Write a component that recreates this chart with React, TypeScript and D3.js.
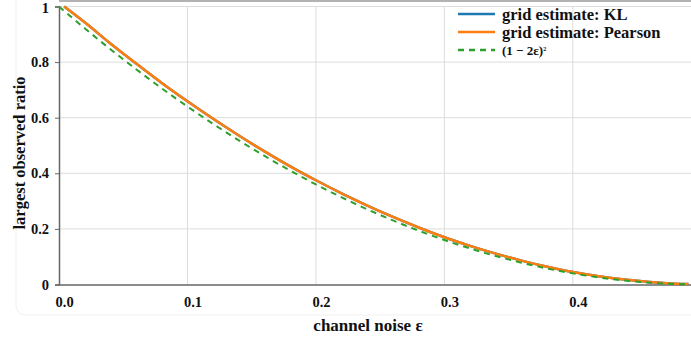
import React, { useEffect, useRef } from 'react'
import { select, scaleLinear, line, curveMonotoneX, axisLeft, axisBottom, format } from 'd3'

// noise levels (x) shared by the grid estimates
const gridEps = [0.004, 0.02, 0.04, 0.06, 0.08, 0.1, 0.12, 0.14, 0.16, 0.18, 0.2, 0.22, 0.24, 0.26, 0.28, 0.3, 0.32, 0.34, 0.36, 0.38, 0.4, 0.42, 0.44, 0.46, 0.48, 0.49]
const klVals = [1.0, 0.943, 0.867, 0.795, 0.725, 0.659, 0.596, 0.536, 0.479, 0.425, 0.375, 0.328, 0.284, 0.243, 0.205, 0.17, 0.139, 0.111, 0.086, 0.064, 0.045, 0.03, 0.018, 0.009, 0.003, 0.0015]
const pearsonVals = [1.0, 0.943, 0.867, 0.795, 0.725, 0.659, 0.596, 0.536, 0.479, 0.425, 0.375, 0.328, 0.284, 0.243, 0.205, 0.17, 0.139, 0.111, 0.086, 0.064, 0.045, 0.03, 0.018, 0.009, 0.003, 0.0015]

// reference curve (1 - 2e)^2
const boundEps = [0, 0.02, 0.04, 0.06, 0.08, 0.1, 0.12, 0.14, 0.16, 0.18, 0.2, 0.22, 0.24, 0.26, 0.28, 0.3, 0.32, 0.34, 0.36, 0.38, 0.4, 0.42, 0.44, 0.46, 0.48, 0.49]
const boundVals = [1, 0.9216, 0.8464, 0.7744, 0.7056, 0.64, 0.5776, 0.5184, 0.4624, 0.4096, 0.36, 0.3136, 0.2704, 0.2304, 0.1936, 0.16, 0.1296, 0.1024, 0.0784, 0.0576, 0.04, 0.0256, 0.0144, 0.0064, 0.0016, 0.0004]

const xTicks = [0, 0.1, 0.2, 0.3, 0.4]
const yTicks = [0, 0.2, 0.4, 0.6, 0.8, 1]

const legendItems = [
    { label: 'grid estimate: KL', color: '#1f77b4', dash: null },
    { label: 'grid estimate: Pearson', color: '#ff7f0e', dash: null },
    { label: '(1 − 2ε)', color: '#2ca02c', dash: '6,5' },
]

const W = 691
const H = 342
const FONT = '"Liberation Serif", "DejaVu Serif", serif'

export default function App() {
    const ref = useRef<SVGSVGElement | null>(null)

    useEffect(() => {
        const margins = { l: 59, r: 0, t: 6.5, b: 57.5 }
        const svg = select(ref.current)
        svg.selectAll('*').remove()

        const x = scaleLinear().domain([0, 0.492]).range([margins.l, W - margins.r])
        const y = scaleLinear().domain([0, 1]).range([H - margins.b, margins.t])

        // faint card outline
        svg.append('rect')
            .attr('x', 16).attr('y', -12).attr('width', W).attr('height', 327)
            .attr('rx', 9).attr('fill', 'none').attr('stroke', '#f1f1f1')

        // grid
        const grid = svg.append('g')
        grid.selectAll('.gx').data(xTicks.slice(1)).join('line')
            .attr('x1', d => x(d)).attr('x2', d => x(d))
            .attr('y1', y(0)).attr('y2', y(1))
            .attr('stroke', '#dcdcdc').attr('stroke-width', 1)
        grid.selectAll('.gy').data(yTicks.slice(1)).join('line')
            .attr('x1', x(0)).attr('x2', W)
            .attr('y1', d => y(d)).attr('y2', d => y(d))
            .attr('stroke', '#dcdcdc').attr('stroke-width', 1)

        // top frame line
        svg.append('line')
            .attr('x1', x(0)).attr('x2', W).attr('y1', 1).attr('y2', 1)
            .attr('stroke', '#9a9a9a').attr('stroke-width', 1.5)

        // axes
        const yAxis = svg.append('g')
            .attr('transform', `translate(${x(0)},0)`)
            .call(axisLeft(y).tickValues(yTicks).tickSize(4).tickPadding(6).tickFormat(d => String(d)))
        yAxis.select('.domain').attr('stroke', '#666').attr('stroke-width', 1.5)
        yAxis.selectAll('.tick line').attr('stroke', '#666')
        yAxis.selectAll('text')
            .attr('font-family', FONT).attr('font-weight', 'bold').attr('font-size', 14.5).attr('fill', '#111')
            .attr('dy', (d: any) => d === 1 ? '0.4em' : '0.32em')

        const xAxis = svg.append('g')
            .attr('transform', `translate(0,${y(0)})`)
            .call(axisBottom(x).tickValues(xTicks).tickSize(0).tickPadding(12).tickFormat(format('.1f')))
        xAxis.select('.domain').attr('stroke', '#666').attr('stroke-width', 1.5)
        xAxis.selectAll('text')
            .attr('text-anchor', 'start').attr('dx', -4)
            .attr('font-family', FONT).attr('font-weight', 'bold').attr('font-size', 14.5).attr('fill', '#111')

        // series
        const gen = line<[number, number]>()
            .x(d => x(d[0])).y(d => y(d[1])).curve(curveMonotoneX)

        const series = [
            { pts: gridEps.map((e, i) => [e, klVals[i]] as [number, number]), color: '#1f77b4', width: 2.5, dash: null },
            { pts: gridEps.map((e, i) => [e, pearsonVals[i]] as [number, number]), color: '#ff7f0e', width: 2.5, dash: null },
            { pts: boundEps.map((e, i) => [e, boundVals[i]] as [number, number]), color: '#2ca02c', width: 2, dash: '6,5' },
        ]
        svg.selectAll('.series').data(series).join('path')
            .attr('class', 'series')
            .attr('d', d => gen(d.pts))
            .attr('fill', 'none')
            .attr('stroke', d => d.color)
            .attr('stroke-width', d => d.width)
            .attr('stroke-dasharray', d => d.dash)

        // axis titles
        svg.append('text')
            .attr('x', 368).attr('y', 331)
            .attr('text-anchor', 'middle')
            .attr('font-family', FONT).attr('font-weight', 'bold').attr('font-size', 17).attr('fill', '#111')
            .text('channel noise ε')
        svg.append('text')
            .attr('transform', 'translate(25,153) rotate(-90)')
            .attr('text-anchor', 'middle')
            .attr('font-family', FONT).attr('font-weight', 'bold').attr('font-size', 16.5).attr('fill', '#111')
            .text('largest observed ratio')

        // legend
        const lg = svg.append('g').attr('transform', 'translate(458,14)')
        const rows = lg.selectAll('g').data(legendItems).join('g')
            .attr('transform', (d, i) => `translate(0,${i * 18})`)
        rows.append('line')
            .attr('x1', 0).attr('x2', 37).attr('y1', 0).attr('y2', 0)
            .attr('stroke', d => d.color).attr('stroke-width', 2.5)
            .attr('stroke-dasharray', d => d.dash)
        const txt = rows.append('text')
            .attr('x', 44).attr('dy', '0.35em')
            .attr('font-family', FONT).attr('font-weight', 'bold')
            .attr('font-size', (d, i) => i === 2 ? 13 : 16.5).attr('fill', '#111')
            .text(d => d.label)
        txt.filter((d, i) => i === 2).append('tspan')
            .attr('font-size', 6).attr('dy', -4).text('2')
    }, [])

    return (
        <svg ref={ref} width={W} height={H}
            style={{ position: 'absolute', left: 0, top: 0, background: '#fff' }} />
    )
}
